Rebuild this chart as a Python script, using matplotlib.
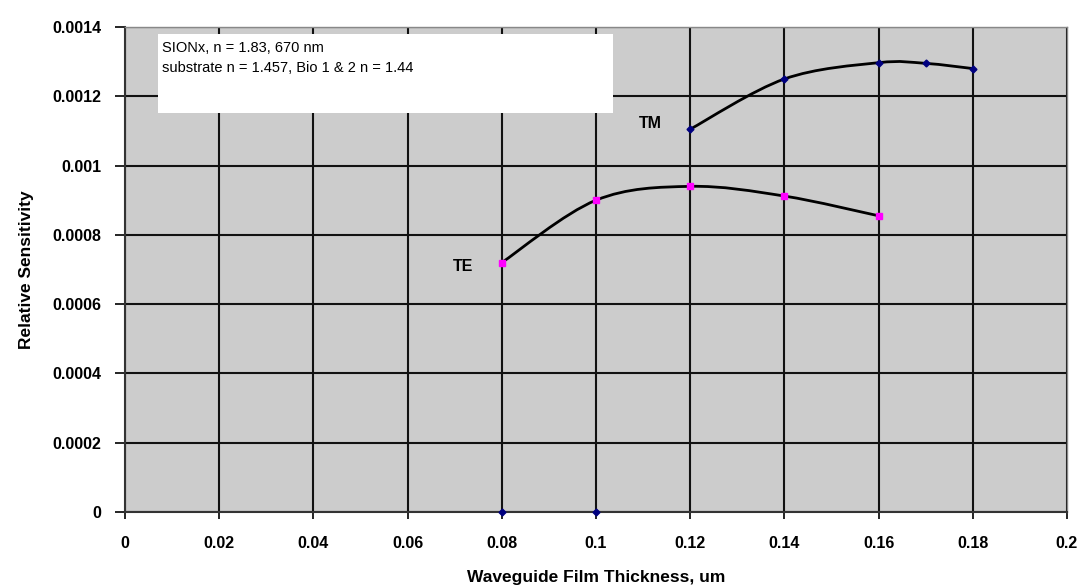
import numpy as np
import matplotlib
matplotlib.use("Agg")
import matplotlib.pyplot as plt
from matplotlib.path import Path
from matplotlib.patches import PathPatch, Rectangle

plt.rcParams['font.family'] = ['Liberation Sans', 'DejaVu Sans']

# Data
te_x = [0.08, 0.10, 0.12, 0.14, 0.16]
te_y = [0.000720, 0.000900, 0.000940, 0.000912, 0.000855]
tm_x = [0.12, 0.14, 0.16, 0.17, 0.18]
tm_y = [0.001105, 0.001250, 0.001297, 0.001295, 0.001280]
tm_zero_x = [0.08, 0.10]
tm_zero_y = [0.0, 0.0]
x_ticks = [0, 0.02, 0.04, 0.06, 0.08, 0.1, 0.12, 0.14, 0.16, 0.18, 0.2]
x_labels = ['0', '0.02', '0.04', '0.06', '0.08', '0.1', '0.12', '0.14', '0.16', '0.18', '0.2']
y_ticks = [0, 0.0002, 0.0004, 0.0006, 0.0008, 0.001, 0.0012, 0.0014]
y_labels = ['0', '0.0002', '0.0004', '0.0006', '0.0008', '0.001', '0.0012', '0.0014']


def smooth_path(xs, ys):
    pts = np.column_stack([xs, ys])
    n = len(pts)
    verts = [pts[0]]
    codes = [Path.MOVETO]
    for i in range(n - 1):
        p0 = pts[i - 1] if i > 0 else pts[i]
        p1 = pts[i]
        p2 = pts[i + 1]
        p3 = pts[i + 2] if i + 2 < n else pts[i + 1]
        c1 = p1 + (p2 - p0) / 6.0
        c2 = p2 - (p3 - p1) / 6.0
        verts += [c1, c2, p2]
        codes += [Path.CURVE4] * 3
    return Path(verts, codes)


fig = plt.figure(figsize=(10.78, 5.87), dpi=100)
ax = fig.add_axes([125 / 1078, 1 - 512 / 587, 942 / 1078, 485 / 587])
ax.set_facecolor('#cccccc')
ax.set_xlim(0, 0.2)
ax.set_ylim(0, 0.0014)

ax.set_xticks(x_ticks)
ax.set_xticklabels(x_labels)
ax.set_yticks(y_ticks)
ax.set_yticklabels(y_labels)
ax.grid(True, color='#111111', linewidth=1.5)
ax.set_axisbelow(True)

for s in ['top', 'right']:
    ax.spines[s].set_color('#888888')
    ax.spines[s].set_linewidth(1.0)
for s in ['left', 'bottom']:
    ax.spines[s].set_color('#333333')
    ax.spines[s].set_linewidth(1.5)

ax.tick_params(axis='y', direction='out', length=7, width=1.2, pad=10, labelsize=11.5)
ax.tick_params(axis='x', direction='out', length=5, width=1.2, pad=12, labelsize=11.5)
for lab in ax.get_xticklabels() + ax.get_yticklabels():
    lab.set_fontweight('bold')

# Smoothed lines
ax.add_patch(PathPatch(smooth_path(te_x, te_y), facecolor='none', edgecolor='black', lw=2, zorder=3))
ax.add_patch(PathPatch(smooth_path(tm_x, tm_y), facecolor='none', edgecolor='black', lw=2, zorder=3))

ax.plot(te_x, te_y, linestyle='none', marker='s', markersize=5, color='#ff00ff', zorder=4)
ax.plot(tm_x, tm_y, linestyle='none', marker='D', markersize=3.5, color='#000080', zorder=4)
ax.plot(tm_zero_x, tm_zero_y, linestyle='none', marker='D', markersize=3.5, color='#000080', zorder=4, clip_on=False)

ax.text(0.1116, 0.00112, 'TM', fontsize=11.5, fontweight='bold', ha='center', va='center', zorder=5)
ax.text(0.0717, 0.000708, 'TE', fontsize=11.5, fontweight='bold', ha='center', va='center', zorder=5)

ax.add_patch(Rectangle((0.035, 0.8227), 0.483, 0.163, transform=ax.transAxes,
                       facecolor='white', edgecolor='none', zorder=5))
ax.text(0.039, 0.957, 'SIONx, n = 1.83, 670 nm', transform=ax.transAxes, fontsize=10.5,
        ha='left', va='center', zorder=6)
ax.text(0.039, 0.915, 'substrate n = 1.457, Bio 1 & 2 n = 1.44', transform=ax.transAxes, fontsize=10.5,
        ha='left', va='center', zorder=6)

ax.set_xlabel('Waveguide Film Thickness, um', fontsize=12.5, fontweight='bold', labelpad=14)
ax.set_ylabel('Relative Sensitivity', fontsize=12.5, fontweight='bold', labelpad=13)

fig.savefig('out.png', dpi=100)
